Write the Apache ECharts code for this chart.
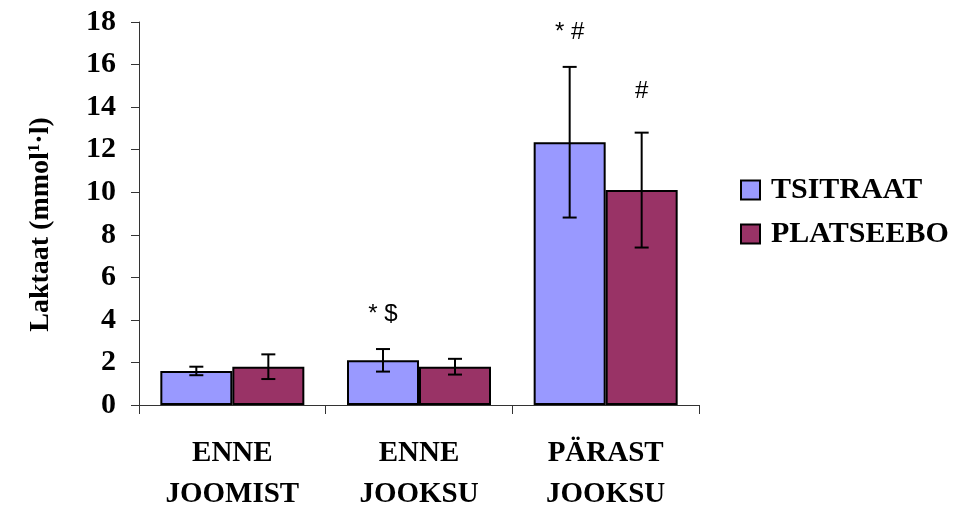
<!DOCTYPE html>
<html>
<head>
<meta charset="utf-8">
<script src="https://cdn.jsdelivr.net/npm/echarts@6/dist/echarts.min.js"></script>
<style>
  html, body { margin: 0; padding: 0; background: #fff; }
  #chart { width: 954px; height: 510px; }
</style>
</head>
<body>
<div id="chart"></div>
<script>
const BLUE = '#9999ff', PURPLE = '#993366'
const SERIF = '"Liberation Serif", "Times New Roman", serif'
const SANS = '"Liberation Sans", Arial, sans-serif'

const categories = ['ENNE\nJOOMIST', 'ENNE\nJOOKSU', 'PÄRAST\nJOOKSU']
const yTicks = [0, 2, 4, 6, 8, 10, 12, 14, 16, 18]

const tsitraat = [1.6, 2.1, 12.35]
const tsitraatSd = [0.2, 0.53, 3.54]
const tsitraatMarks = ['', '* $', '* #']

const platseebo = [1.8, 1.8, 10.1]
const platseeboSd = [0.58, 0.37, 2.7]
const platseeboMarks = ['', '', '#']

const BAR_W = 72

// error bar + significance mark, drawn on top of the bars
function errorSeries(values, sds, marks, offset, markGap) {
  return {
    type: 'custom',
    z: 10,
    silent: true,
    data: values.map((v, i) => [i, v, sds[i]]),
    renderItem: (params, api) => {
      const i = api.value(0), v = api.value(1), sd = api.value(2)
      const x = api.coord([i, 0])[0] + offset
      const top = api.coord([i, v + sd])[1]
      const bot = api.coord([i, v - sd])[1]
      const cap = 7
      const line = { stroke: '#000', lineWidth: 2 }
      const children = [
        { type: 'line', shape: { x1: x, y1: top, x2: x, y2: bot }, style: line },
        { type: 'line', shape: { x1: x - cap, y1: top, x2: x + cap, y2: top }, style: line },
        { type: 'line', shape: { x1: x - cap, y1: bot, x2: x + cap, y2: bot }, style: line },
      ]
      const mark = marks[i]
      if (mark) {
        children.push({
          type: 'text',
          style: {
            text: mark, x: x, y: top - markGap,
            align: 'center', verticalAlign: 'middle',
            fill: '#000', font: '24px ' + SANS,
          },
        })
      }
      return { type: 'group', children }
    },
  }
}

const chart = echarts.init(document.getElementById('chart'))
chart.setOption({
  backgroundColor: '#fff',
  animation: false,
  grid: { left: 139, right: 255, top: 22, bottom: 105, containLabel: false, outerBoundsMode: 'none' },
  legend: {
    orient: 'vertical',
    left: 740, top: 175, padding: 0,
    itemWidth: 19, itemHeight: 19, itemGap: 14,
    icon: 'rect',
    textStyle: { fontFamily: SERIF, fontWeight: 'bold', fontSize: 30, color: '#000', padding: [0, 0, 0, 6] },
    data: ['TSITRAAT', 'PLATSEEBO'],
  },
  xAxis: {
    type: 'category',
    data: categories,
    axisLine: { lineStyle: { color: '#333', width: 1 } },
    axisTick: { show: true, length: 9, lineStyle: { color: '#333' } },
    axisLabel: {
      interval: 0, margin: 28,
      fontFamily: SERIF, fontWeight: 'bold', fontSize: 29, lineHeight: 41, color: '#000',
    },
  },
  yAxis: {
    type: 'value',
    min: 0, max: 18, interval: 2,
    name: '{t|Laktaat (mmol}{s|1}{t|·l)}',
    nameLocation: 'middle',
    nameGap: 84,
    nameRotate: 90,
    nameTextStyle: {
      padding: [0, 22, 0, 0],
      rich: {
        t: { fontFamily: SERIF, fontWeight: 'bold', fontSize: 28, color: '#000' },
        s: { fontFamily: SERIF, fontWeight: 'bold', fontSize: 17, color: '#000', verticalAlign: 'top', padding: [0, 0, 12, 0] },
      },
    },
    axisLine: { show: true, lineStyle: { color: '#333', width: 1 } },
    axisTick: { show: true, length: 8, lineStyle: { color: '#333' } },
    splitLine: { show: false },
    axisLabel: {
      margin: 23,
      fontFamily: SERIF, fontWeight: 'bold', fontSize: 30, color: '#000',
      formatter: v => yTicks.includes(v) ? String(v) : '',
    },
  },
  series: [
    {
      name: 'TSITRAAT', type: 'bar', data: tsitraat,
      barWidth: BAR_W, barGap: '0%',
      itemStyle: { color: BLUE, borderColor: '#000', borderWidth: 2 },
    },
    {
      name: 'PLATSEEBO', type: 'bar', data: platseebo,
      barWidth: BAR_W, barGap: '0%',
      itemStyle: { color: PURPLE, borderColor: '#000', borderWidth: 2 },
    },
    errorSeries(tsitraat, tsitraatSd, tsitraatMarks, -BAR_W / 2, 35),
    errorSeries(platseebo, platseeboSd, platseeboMarks, BAR_W / 2, 41),
  ],
  tooltip: { show: false },
})
</script>
</body>
</html>
